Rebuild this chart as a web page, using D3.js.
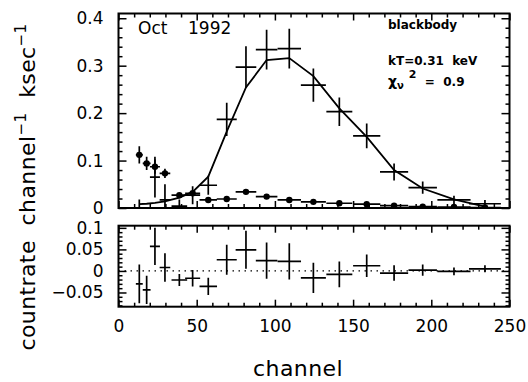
<!DOCTYPE html>
<html>
<head>
<meta charset="utf-8">
<script src="https://cdn.jsdelivr.net/npm/d3@7/dist/d3.min.js"></script>
<style>
  body { margin: 0; background: #fff; }
  svg { display: block; font-family: "DejaVu Sans", sans-serif; }
  .axis path { display: none; }
  .axis line { stroke: #000; stroke-width: 1.5; }
  .axis text { font-family: "DejaVu Sans", sans-serif; font-size: 17px; fill: #000; }
  .bar { stroke: #000; stroke-width: 1.7; fill: none; }
  .note { font-weight: bold; font-size: 12px; white-space: pre; }
  .lab { font-size: 22px; letter-spacing: 0.4px; white-space: pre; }
</style>
</head>
<body>
<div id="chart"></div>
<script>
// channel bins (centre and half width)
const chan   = [13.3, 18.0, 23.3, 29.7, 38.9, 47.4, 57.4, 69.2, 81.5, 94.7, 109.2, 124.6, 141.2, 158.7, 176.2, 194.5, 214.5, 234.3];
const chanHw = [2.2, 2.5, 3.2, 3.4, 5.0, 4.8, 5.6, 6.4, 6.6, 6.9, 7.5, 8.0, 8.3, 8.7, 9.0, 9.1, 10.6, 10.2];

// source spectrum (crosses), countrate channel^-1 ksec^-1
const srcRate = [-0.027, -0.035, 0.065, 0.017, 0.004, 0.027, 0.048, 0.187, 0.297, 0.334, 0.336, 0.259, 0.203, 0.152, 0.076, 0.043, 0.017, 0.009];
const srcErr  = [0.045, 0.033, 0.043, 0.033, 0.014, 0.019, 0.020, 0.035, 0.044, 0.042, 0.042, 0.035, 0.030, 0.026, 0.018, 0.013, 0.009, 0.008];

// background (filled circles)
const bkgRate = [0.112, 0.094, 0.087, 0.073, 0.027, 0.031, 0.017, 0.019, 0.034, 0.024, 0.017, 0.013, 0.010, 0.008, 0.005, 0.003, 0.002, 0.001];
const bkgErr  = [0.018, 0.014, 0.015, 0.010, 0.004, 0.004, 0.003, 0.003, 0.004, 0.003, 0.003, 0.002, 0.002, 0.002, 0.002, 0.001, 0.001, 0.001];

// blackbody model
const modelRate = [0.008, 0.009, 0.011, 0.014, 0.022, 0.034, 0.066, 0.161, 0.254, 0.312, 0.316, 0.278, 0.210, 0.150, 0.080, 0.041, 0.018, 0.003];

// residuals (data - model)
const resid = [-0.030, -0.044, 0.057, 0.008, -0.021, -0.017, -0.036, 0.026, 0.049, 0.024, 0.022, -0.016, -0.008, 0.012, -0.005, 0.002, -0.001, 0.005];

const xMajor = [0, 50, 100, 150, 200, 250];
const topMajor = [0, 0.1, 0.2, 0.3, 0.4];
const botMajor = [-0.05, 0, 0.05, 0.1];

const width = 528, height = 382;
const L = 118.5, R = 509.5;

const svg = d3.select('#chart').append('svg')
    .attr('width', width)
    .attr('height', height);

const x = d3.scaleLinear().domain([0, 250]).range([L, R]);
const yTop = d3.scaleLinear().domain([0, 0.41]).range([208, 13.5]);
const yBot = d3.scaleLinear().domain([-0.083, 0.105]).range([306.7, 225.7]);

const xMinor = d3.range(0, 251, 10).filter(v => v % 50 !== 0);

function fmtY(d) {
    if (d === 0) return '0';
    return d3.format('')(+d.toFixed(2)).replace('-', '\u2212');
}

// ticks, labels and frame for one panel
function frame(y, yMajor, yMinor, showX, id) {
    const g = svg.append('g');
    const y0 = y.range()[0], y1 = y.range()[1];

    g.append('g').attr('class', 'axis').attr('transform', `translate(0,${y0})`)
        .call(d3.axisBottom(x).tickValues(xMajor).tickSize(-7).tickPadding(13)
            .tickFormat(showX ? d3.format('d') : ''));
    g.append('g').attr('class', 'axis').attr('transform', `translate(0,${y0})`)
        .call(d3.axisBottom(x).tickValues(xMinor).tickSize(-4).tickFormat(''));
    g.append('g').attr('class', 'axis').attr('transform', `translate(0,${y1})`)
        .call(d3.axisTop(x).tickValues(xMajor).tickSize(-7).tickFormat(''));
    g.append('g').attr('class', 'axis').attr('transform', `translate(0,${y1})`)
        .call(d3.axisTop(x).tickValues(xMinor).tickSize(-4).tickFormat(''));

    g.append('g').attr('class', 'axis').attr('transform', `translate(${L},0)`)
        .call(d3.axisLeft(y).tickValues(yMajor).tickSize(-8).tickPadding(15).tickFormat(fmtY));
    g.append('g').attr('class', 'axis').attr('transform', `translate(${L},0)`)
        .call(d3.axisLeft(y).tickValues(yMinor).tickSize(-4).tickFormat(''));
    g.append('g').attr('class', 'axis').attr('transform', `translate(${R},0)`)
        .call(d3.axisRight(y).tickValues(yMajor).tickSize(-8).tickFormat(''));
    g.append('g').attr('class', 'axis').attr('transform', `translate(${R},0)`)
        .call(d3.axisRight(y).tickValues(yMinor).tickSize(-4).tickFormat(''));

    g.append('rect')
        .attr('x', L).attr('y', y1)
        .attr('width', R - L).attr('height', y0 - y1)
        .attr('fill', 'none').attr('stroke', '#000').attr('stroke-width', 2);

    svg.append('clipPath').attr('id', id)
        .append('rect').attr('x', L).attr('y', y1).attr('width', R - L).attr('height', y0 - y1);
    return svg.append('g').attr('clip-path', `url(#${id})`);
}

const topMinor = d3.range(0, 0.41, 0.02).filter(v => Math.round(v * 100) % 10 !== 0);
const botMinor = d3.range(-0.08, 0.105, 0.01).filter(v => Math.round(v * 100) % 5 !== 0);

const pTop = frame(yTop, topMajor, topMinor, false, 'clipTop');
const pBot = frame(yBot, botMajor, botMinor, true, 'clipBot');

function crosses(g, y, vals, errs) {
    const gg = g.append('g');
    gg.selectAll('line.h').data(chan).enter().append('line')
        .attr('class', 'bar')
        .attr('x1', (d, i) => x(d - chanHw[i]))
        .attr('x2', (d, i) => x(d + chanHw[i]))
        .attr('y1', (d, i) => y(vals[i]))
        .attr('y2', (d, i) => y(vals[i]));
    gg.selectAll('line.v').data(chan).enter().append('line')
        .attr('class', 'bar')
        .attr('x1', d => x(d))
        .attr('x2', d => x(d))
        .attr('y1', (d, i) => y(vals[i] - errs[i]))
        .attr('y2', (d, i) => y(vals[i] + errs[i]));
    return gg;
}

// source data and model
crosses(pTop, yTop, srcRate, srcErr);
pTop.append('path')
    .datum(chan)
    .attr('fill', 'none')
    .attr('stroke', '#000')
    .attr('stroke-width', 1.8)
    .attr('d', d3.line().x(d => x(d)).y((d, i) => yTop(modelRate[i])));

// background
const bg = crosses(pTop, yTop, bkgRate, bkgErr);
bg.selectAll('circle').data(chan).enter().append('circle')
    .attr('cx', d => x(d))
    .attr('cy', (d, i) => yTop(bkgRate[i]))
    .attr('r', 3.2)
    .attr('fill', '#000');

// residuals
pBot.append('line')
    .attr('x1', L).attr('x2', R)
    .attr('y1', yBot(0)).attr('y2', yBot(0))
    .attr('stroke', '#000').attr('stroke-width', 1.3)
    .attr('stroke-dasharray', '1.5,4.5');
crosses(pBot, yBot, resid, srcErr);

// annotations
const t1 = svg.append('text').attr('y', 34).style('font-size', '17px');
t1.append('tspan').attr('x', 138).text('Oct');
t1.append('tspan').attr('x', 188).text('1992');

svg.append('text').attr('class', 'note').attr('x', 388).attr('y', 29).text('blackbody');
svg.append('text').attr('class', 'note').attr('x', 388).attr('y', 65).text('kT=0.31  keV');
const chi = svg.append('text').attr('class', 'note').attr('x', 388).attr('y', 86);
chi.append('tspan').style('font-size', '14px').text('\u03c7');
chi.append('tspan').attr('dy', 3).style('font-size', '10px').text('\u03bd');
chi.append('tspan').attr('dy', -11).attr('dx', 5).style('font-size', '11px').text('2');
chi.append('tspan').attr('dy', 8).text('  =  0.9');

// axis titles
svg.append('text').attr('class', 'lab')
    .attr('x', 298).attr('y', 376)
    .attr('text-anchor', 'middle')
    .text('channel');

const yl = svg.append('text').attr('class', 'lab')
    .attr('transform', 'translate(35,187) rotate(-90)')
    .attr('text-anchor', 'middle');
yl.append('tspan').text('countrate  channel');
yl.append('tspan').attr('dy', -9).style('font-size', '15px').text('\u22121');
yl.append('tspan').attr('dy', 9).text('  ksec');
yl.append('tspan').attr('dy', -9).style('font-size', '15px').text('\u22121');
</script>
</body>
</html>
